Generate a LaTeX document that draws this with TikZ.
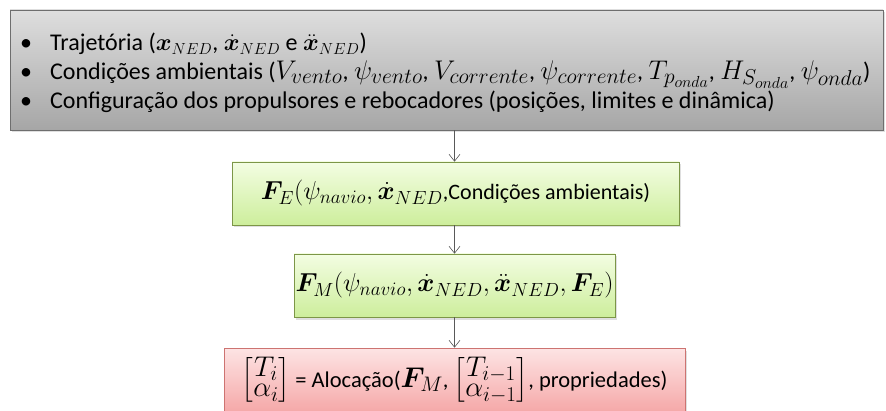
\RequirePackage{fix-cm}
\documentclass[tikz,border=0pt]{standalone}
\usepackage{amsmath,bm}
\usepackage{fontspec}
\setmainfont{Carlito}
\newcommand\NED{NED}
\newcommand\lineone[1]{{\fontsize{23}{29}\selectfont$#1$}}
\DeclareMathSizes{24}{27}{21.5}{16}
\DeclareMathSizes{23}{24}{16}{12}
\DeclareMathSizes{22}{26}{19}{15}
\DeclareMathSizes{22.5}{28.5}{21}{16}
\usetikzlibrary{arrows.meta,shadows}
\definecolor{grayT}{HTML}{DEDEDE}
\definecolor{grayB}{HTML}{A6A6A6}
\definecolor{grayD}{HTML}{6E6E6E}
\definecolor{greenT}{HTML}{F3FDE2}
\definecolor{greenB}{HTML}{CDEE9C}
\definecolor{greenD}{HTML}{9BBB59}
\definecolor{redT}{HTML}{FDE4E4}
\definecolor{redB}{HTML}{F5A8A8}
\definecolor{redD}{HTML}{C0504D}
\definecolor{arrowc}{HTML}{595959}
\begin{document}
\begin{tikzpicture}[x=1pt,y=1pt,
  box/.style={draw=#1, line width=0.6pt, inner sep=0pt,
    drop shadow={opacity=0.25,shadow xshift=1.5pt,shadow yshift=-2.5pt}},
  graybox/.style={box=grayD, top color=grayT, bottom color=grayB},
  greenbox/.style={box=greenD!80!black, top color=greenT, bottom color=greenB},
  redbox/.style={box=redD!80, top color=redT, bottom color=redB},
  conn/.style={draw=arrowc, line width=0.6pt, -{Straight Barb[length=7pt,width=11pt]}},
  midtxt/.style={font=\fontsize{22}{26}\selectfont},
  redtxt/.style={font=\fontsize{22.5}{26}\selectfont},
]
\useasboundingbox (0,0) rectangle (886,410);
\node[graybox, minimum width=873pt, minimum height=120pt] (top) at (446.5,340) {};
\node[anchor=west, inner sep=0pt, font=\fontsize{24}{29}\selectfont] (toptxt) at (20,336)
{\begin{tabular}{@{}l@{}l@{}}
\makebox[30pt][l]{\textbullet} & Trajetória (\lineone{\bm{x}_{\NED}}, \lineone{\dot{\bm{x}}_{\NED}} e \lineone{\ddot{\bm{x}}_{\NED}})\\
\makebox[30pt][l]{\textbullet} & Condições ambientais ($V_{vento}$, $\psi_{vento}$, $V_{corrente}$, $\psi_{corrente}$, $T_{p_{onda}}$, $H_{S_{onda}}$, $\psi_{onda}$)\\
\makebox[30pt][l]{\textbullet} & Configuração dos propulsores e rebocadores (posições, limites e dinâmica)
\end{tabular}};
\node[greenbox, minimum width=447pt, minimum height=63pt, midtxt] (fe) at (455.5,216.5)
{$\bm{F}_E(\psi_{navio}, \dot{\bm{x}}_{\NED}$,Condições ambientais)};
\node[greenbox, minimum width=321pt, minimum height=63pt, midtxt] (fm) at (454.5,124.5)
{$\bm{F}_M(\psi_{navio}, \dot{\bm{x}}_{\NED}, \ddot{\bm{x}}_{\NED}, \bm{F}_E)$};
\node[redbox, minimum width=461pt, minimum height=64pt, redtxt] (al) at (454.5,30)
{\renewcommand\arraystretch{0.78}$\begin{bmatrix}T_i\\ \alpha_i\end{bmatrix}$ = Alocação($\bm{F}_M$, $\begin{bmatrix}T_{i-1}\\ \alpha_{i-1}\end{bmatrix}$, propriedades)};
\draw[conn] (fm.north |- top.south) -- (fe.north -| fm.north);
\draw[conn] (fe.south -| fm.north) -- (fm.north);
\draw[conn] (fm.south) -- (al.north -| fm.south);
\end{tikzpicture}
\end{document}
